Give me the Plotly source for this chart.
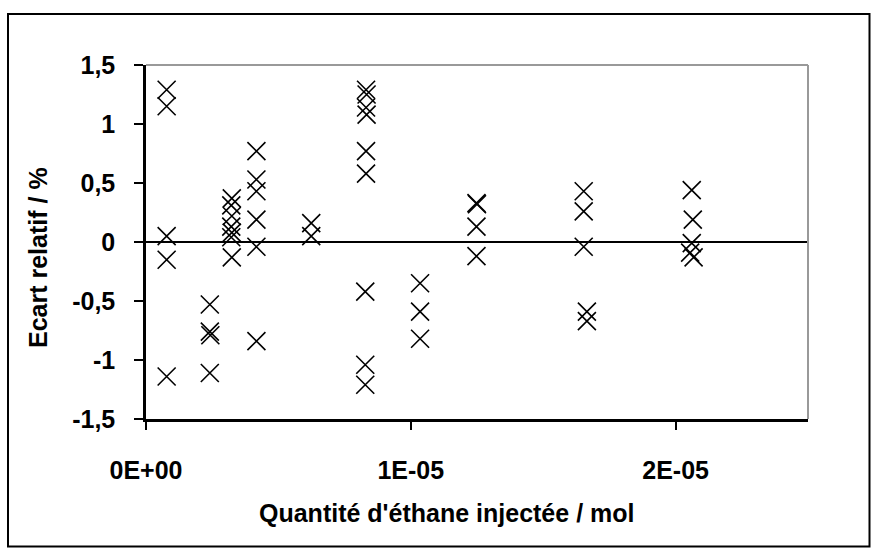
import plotly.graph_objects as go

# Quantité d'éthane injectée (mol) and relative deviation (%)
quantite = [
    7.8e-7, 7.8e-7, 7.8e-7, 7.8e-7, 7.8e-7,
    2.41e-6, 2.41e-6, 2.43e-6, 2.41e-6,
    3.24e-6, 3.22e-6, 3.24e-6, 3.22e-6, 3.24e-6, 3.22e-6, 3.24e-6,
    4.17e-6, 4.17e-6, 4.17e-6, 4.17e-6, 4.17e-6, 4.17e-6,
    6.24e-6, 6.24e-6,
    8.31e-6, 8.33e-6, 8.31e-6, 8.33e-6, 8.31e-6, 8.31e-6, 8.28e-6, 8.28e-6, 8.28e-6,
    1.035e-5, 1.035e-5, 1.035e-5,
    1.248e-5, 1.250e-5, 1.248e-5, 1.248e-5,
    1.653e-5, 1.653e-5, 1.653e-5, 1.665e-5, 1.665e-5,
    2.061e-5, 2.065e-5, 2.061e-5, 2.055e-5, 2.068e-5,
]
ecart = [
    1.29, 1.15, 0.05, -0.15, -1.14,
    -0.53, -0.76, -0.79, -1.11,
    0.37, 0.31, 0.22, 0.13, 0.08, 0.04, -0.13,
    0.77, 0.53, 0.43, 0.19, -0.04, -0.84,
    0.16, 0.05,
    1.29, 1.25, 1.14, 1.08, 0.77, 0.58, -0.42, -1.04, -1.21,
    -0.35, -0.59, -0.82,
    0.33, 0.32, 0.13, -0.12,
    0.43, 0.26, -0.04, -0.59, -0.67,
    0.44, 0.19, -0.01, -0.09, -0.13,
]

x_ticks = [0, 1e-5, 2e-5]
x_ticktext = ["0E+00", "1E-05", "2E-05"]
y_ticks = [-1.5, -1, -0.5, 0, 0.5, 1, 1.5]
y_ticktext = ["-1,5", "-1", "-0,5", "0", "0,5", "1", "1,5"]

FONT = "Liberation Sans, Arial, sans-serif"

fig = go.Figure(
    go.Scatter(
        x=quantite, y=ecart, mode="markers",
        marker=dict(symbol="x-thin", size=18, color="black",
                    line=dict(color="black", width=1.6)),
        hoverinfo="x+y",
    )
)

W, H = 871, 548
L, R, T, B = 146, 808, 65, 419  # plot area in pixels


def px(x):
    return (x - L) / (R - L)


def py(y):
    return (B - y) / (B - T)


fig.update_layout(
    width=W, height=H,
    margin=dict(l=L, r=W - R, t=T, b=H - B),
    paper_bgcolor="white", plot_bgcolor="white",
    showlegend=False,
    font=dict(family=FONT, color="black"),
)

fig.update_xaxes(
    range=[0, 2.5e-5], tickvals=x_ticks, ticktext=x_ticktext,
    ticks="outside", ticklen=8, tickwidth=1.5, tickcolor="black",
    showline=True, linecolor="black", linewidth=2.5,
    showgrid=False, zeroline=False,
    tickfont=dict(family=FONT, size=25, weight="bold", color="black"),
    ticklabelstandoff=19,
)
fig.update_yaxes(
    range=[-1.5, 1.5], tickvals=y_ticks, ticktext=y_ticktext,
    ticks="outside", ticklen=9, tickwidth=1.5, tickcolor="black",
    showline=True, linecolor="black", linewidth=2.5,
    showgrid=False, zeroline=True, zerolinecolor="black", zerolinewidth=1.5,
    tickfont=dict(family=FONT, size=25, weight="bold", color="black"),
    ticklabelstandoff=14,
)

shapes = [
    # grey top and right edges of the plot area
    dict(type="line", xref="paper", yref="paper", x0=0, x1=1, y0=1, y1=1,
         line=dict(color="#999999", width=2)),
    dict(type="line", xref="paper", yref="paper", x0=1, x1=1, y0=0, y1=1,
         line=dict(color="#999999", width=2)),
    # outer chart frame
    dict(type="rect", xref="paper", yref="paper",
         x0=px(8), x1=px(869.5), y0=py(546.5), y1=py(14),
         line=dict(color="black", width=2), fillcolor="rgba(0,0,0,0)"),
]
fig.update_layout(shapes=shapes)

fig.add_annotation(
    text="Quantité d'éthane injectée / mol", xref="paper", yref="paper",
    x=px(446), y=py(513), showarrow=False, xanchor="center", yanchor="middle",
    font=dict(family=FONT, size=25, weight="bold", color="black"),
)
fig.add_annotation(
    text="Ecart relatif / %", xref="paper", yref="paper",
    x=px(38), y=py(258), showarrow=False, xanchor="center", yanchor="middle",
    textangle=-90,
    font=dict(family=FONT, size=25, weight="bold", color="black"),
)

fig.write_html("out.html")
